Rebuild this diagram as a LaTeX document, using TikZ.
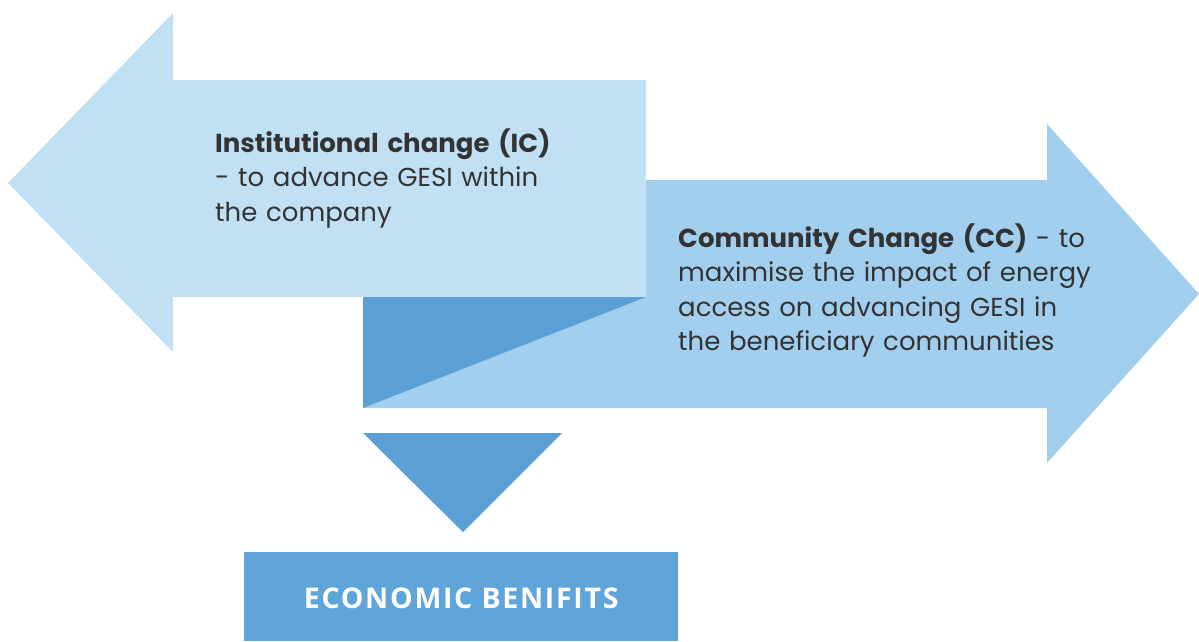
\documentclass[tikz,border=0pt]{standalone}
\usepackage{fontspec}
\setmainfont{Poppins}
\newfontfamily\boxfont[LetterSpace=6]{Open Sans}
\usetikzlibrary{positioning}

\definecolor{icblue}{HTML}{C1E0F4}
\definecolor{ccblue}{HTML}{A3CFEE}
\definecolor{foldblue}{HTML}{5A9FD6}
\definecolor{ebblue}{HTML}{5FA5D9}
\definecolor{textgrey}{HTML}{333333}

\begin{document}
\begin{tikzpicture}
  [x=1pt, y=-1pt,
   txt/.style={align=left, inner sep=0pt, anchor=base west, text=textgrey,
     font=\fontsize{26}{34.5}\selectfont},
   ebbox/.style={fill=ebblue, text=white, inner sep=0pt,
     minimum width=434pt, minimum height=89pt,
     font=\boxfont\bfseries\fontsize{28.5}{30}\selectfont},
  ]
  \useasboundingbox (0,0) rectangle (1199,641);

  % community change arrow, pointing right
  \fill[ccblue] (363,180) -- (1047,180) -- (1047,124) -- (1199,294)
    -- (1047,463) -- (1047,408) -- (363,408) -- cycle;
  % fold underneath the left arrow
  \fill[foldblue] (363,297) -- (646,297) -- (363,408) -- cycle;
  % institutional change arrow, pointing left
  \fill[icblue] (646,80) -- (173,80) -- (173,13) -- (8,183)
    -- (173,352) -- (173,297) -- (646,297) -- cycle;
  % down pointer
  \fill[foldblue] (363,433) -- (562,433) -- (463,532) -- cycle;

  \node[txt, text width=380pt] (ic) at (215,152)
    {\textbf{Institutional change (IC)}\\
     - to advance GESI within\\
     the company};
  \node[txt, text width=480pt] (cc) at (678,247)
    {\textbf{Community Change (CC)} - to\\
     maximise the impact of energy\\
     access on advancing GESI in\\
     the beneficiary communities};

  \node[ebbox, anchor=north west, text depth=0pt] (eb) at (244,552)
    {\raisebox{-3pt}{ECONOMIC BENIFITS}};
\end{tikzpicture}
\end{document}
